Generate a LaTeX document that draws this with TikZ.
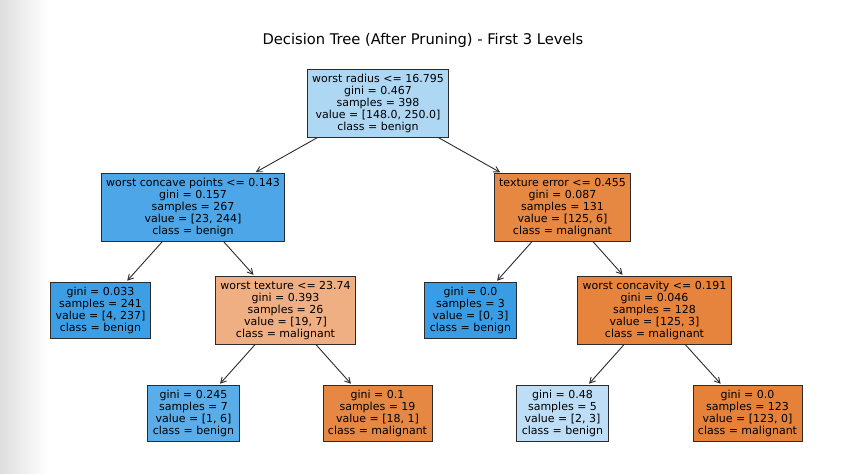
\documentclass[tikz,border=0pt]{standalone}
\usepackage{fontspec}
\setmainfont{DejaVu Sans}
\usetikzlibrary{arrows.meta,positioning}
\definecolor{rootfill}{HTML}{AED7F4}
\definecolor{wcpfill}{HTML}{4CA6E7}
\definecolor{tefill}{HTML}{E68742}
\definecolor{leafa}{HTML}{3C9FE5}
\definecolor{wtfill}{HTML}{EFAF82}
\definecolor{leafc}{HTML}{399DE5}
\definecolor{wcfill}{HTML}{E6843E}
\definecolor{leafe}{HTML}{5AADE9}
\definecolor{leaff}{HTML}{E68844}
\definecolor{leafg}{HTML}{BDDEF6}
\definecolor{leafh}{HTML}{E58139}
\definecolor{edgegray}{HTML}{2B2B2B}

\begin{document}
\begin{tikzpicture}[x=1pt,y=1pt,on grid,>={Straight Barb[length=5.5pt,width=6pt]},
tnode/.style={draw=edgegray,line width=0.9pt,inner xsep=5pt,inner ysep=4.5pt,align=center,font=\fontsize{11}{12}\selectfont},
edge/.style={->,draw=edgegray,line width=0.9pt,shorten >=2pt}]
\useasboundingbox (0,0) rectangle (863,-474);
\fill[left color=black!13,right color=white] (0,0) rectangle (48,-474);
\node[font=\fontsize{14.7}{17}\selectfont] (title) at (423,-40) {Decision Tree (After Pruning) - First 3 Levels};
% level 0
\node[tnode,fill=rootfill] (root) at (378,-103.5) {worst radius <= 16.795\\gini = 0.467\\samples = 398\\value = [148.0, 250.0]\\class = benign};
% level 1
\node[tnode,fill=wcpfill,below left=104pt and 185pt of root] (wcp) {worst concave points <= 0.143\\gini = 0.157\\samples = 267\\value = [23, 244]\\class = benign};
\node[tnode,fill=tefill,below right=104pt and 184.5pt of root] (te) {texture error <= 0.455\\gini = 0.087\\samples = 131\\value = [125, 6]\\class = malignant};
% level 2
\node[tnode,fill=leafa,below left=103pt and 92.5pt of wcp] (la) {gini = 0.033\\samples = 241\\value = [4, 237]\\class = benign};
\node[tnode,fill=wtfill,below right=103pt and 92.5pt of wcp] (wt) {worst texture <= 23.74\\gini = 0.393\\samples = 26\\value = [19, 7]\\class = malignant};
\node[tnode,fill=leafc,below left=103pt and 92pt of te] (lc) {gini = 0.0\\samples = 3\\value = [0, 3]\\class = benign};
\node[tnode,fill=wcfill,below right=103pt and 92pt of te] (wc) {worst concavity <= 0.191\\gini = 0.046\\samples = 128\\value = [125, 3]\\class = malignant};
% level 3
\node[tnode,fill=leafe,below left=103pt and 92pt of wt] (le) {gini = 0.245\\samples = 7\\value = [1, 6]\\class = benign};
\node[tnode,fill=leaff,below right=103pt and 92pt of wt] (lf) {gini = 0.1\\samples = 19\\value = [18, 1]\\class = malignant};
\node[tnode,fill=leafg,below left=103pt and 92pt of wc] (lg) {gini = 0.48\\samples = 5\\value = [2, 3]\\class = benign};
\node[tnode,fill=leafh,below right=103pt and 93pt of wc] (lh) {gini = 0.0\\samples = 123\\value = [123, 0]\\class = malignant};
\foreach \p/\c in {root/wcp,root/te,wcp/la,wcp/wt,te/lc,te/wc,wt/le,wt/lf,wc/lg,wc/lh}
  \draw[edge] (\p) -- (\c);
\end{tikzpicture}
\end{document}
